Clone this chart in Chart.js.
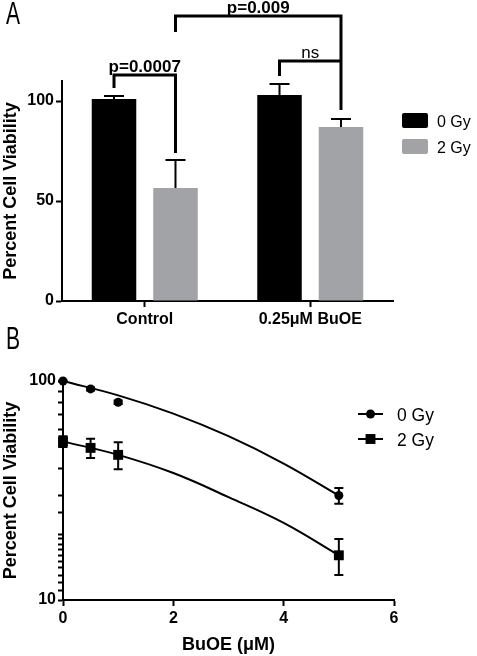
<!DOCTYPE html>
<html>
<head>
<meta charset="utf-8">
<script src="https://cdn.jsdelivr.net/npm/chart.js@4.4.0/dist/chart.umd.min.js"></script>
<style>
  html, body { margin: 0; padding: 0; background: #fff; }
  body { width: 477px; height: 656px; position: relative; overflow: hidden; }
  canvas { position: absolute; left: 0; }
  .panel { position: absolute; left: 6px; font-family: 'Liberation Sans', Arial, sans-serif; font-size: 31px; line-height: 1; color: #000; transform: scaleX(0.68); transform-origin: left top; }
</style>
</head>
<body>
<canvas id="chartA" width="477" height="330" style="top:0"></canvas>
<canvas id="chartB" width="477" height="326" style="top:330px"></canvas>
<div class="panel" style="top:-2px">A</div>
<div class="panel" style="top:323px">B</div>
<script>
// panel A - bar chart
const categories = ['Control', '0.25μM BuOE'];
const viability0 = [101, 103];
const viability2 = [56.5, 87];
const sem0 = [1.5, 5.5];
const sem2 = [14, 4];

// panel B - dose response
const doses = [0, 0.5, 1, 5];
const survival0 = [100, 92, 80, 30];
const survival2 = [53, 49.5, 46, 16];
const survErr0 = [0.5, 1.5, 1.5, 2.5];
const survErr2 = [3, 5, 6.5, 3];
const fitDoses = [0, 1, 2, 3, 4, 5];
const fit0 = [100, 86, 71, 56, 42, 30];
const fit2 = [53, 46, 38, 29.5, 22.5, 16];

const seriesNames = ['0 Gy', '2 Gy'];
const BLACK = '#000000';
const GREY = '#a2a3a7';

Chart.defaults.font.family = "'Liberation Sans', Arial, sans-serif";
Chart.defaults.color = '#000';

// significance brackets: [dataset, category] at each end, values in axis units
const brackets = [
  { from: [0, 0], to: [1, 0], left: 106.5, top: 113, right: 74, text: 'p=0.0007', bold: true },
  { from: [1, 0], to: [1, 1], left: 134.5, top: 142.5, right: 95.5, text: 'p=0.009', bold: true },
  { from: [0, 1], to: [1, 1], left: 112.5, top: 120, right: 120, text: 'ns', bold: false }
];

const barExtras = {
  id: 'barExtras',
  afterDatasetsDraw(chart) {
    const ctx = chart.ctx, y = chart.scales.y;
    ctx.save();
    ctx.strokeStyle = BLACK;
    // error bars (upper only)
    ctx.lineWidth = 2;
    chart.data.datasets.forEach((ds, i) => {
      chart.getDatasetMeta(i).data.forEach((bar, j) => {
        const top = y.getPixelForValue(ds.data[j] + ds.errors[j]);
        ctx.beginPath();
        ctx.moveTo(bar.x, bar.y);
        ctx.lineTo(bar.x, top);
        ctx.moveTo(bar.x - 10, top);
        ctx.lineTo(bar.x + 10, top);
        ctx.stroke();
      });
    });
    // brackets
    ctx.lineWidth = 3;
    ctx.lineJoin = 'miter';
    brackets.forEach(b => {
      const x1 = chart.getDatasetMeta(b.from[0]).data[b.from[1]].x;
      const x2 = chart.getDatasetMeta(b.to[0]).data[b.to[1]].x;
      const yt = y.getPixelForValue(b.top);
      ctx.beginPath();
      ctx.moveTo(x1, y.getPixelForValue(b.left));
      ctx.lineTo(x1, yt);
      ctx.lineTo(x2, yt);
      ctx.lineTo(x2, y.getPixelForValue(b.right));
      ctx.stroke();
      ctx.font = (b.bold ? 'bold ' : '') + '17px ' + Chart.defaults.font.family;
      ctx.fillStyle = BLACK;
      ctx.textAlign = 'center';
      ctx.textBaseline = 'alphabetic';
      ctx.fillText(b.text, (x1 + x2) / 2, yt - 3);
    });
    // legend
    const lx = chart.chartArea.right + 9;
    [BLACK, GREY].forEach((c, i) => {
      const cy = 120.5 + i * 26;
      ctx.fillStyle = c;
      ctx.beginPath();
      ctx.roundRect(lx, cy - 7.5, 26, 15, 2);
      ctx.fill();
      ctx.fillStyle = BLACK;
      ctx.font = '16px ' + Chart.defaults.font.family;
      ctx.textAlign = 'left';
      ctx.fillText(seriesNames[i], lx + 35, cy + 6.5);
    });
    ctx.restore();
  }
};

new Chart(document.getElementById('chartA'), {
  type: 'bar',
  data: {
    labels: categories,
    datasets: [
      { label: seriesNames[0], data: viability0, errors: sem0, backgroundColor: BLACK,
        categoryPercentage: 0.743, barPercentage: 0.724 },
      { label: seriesNames[1], data: viability2, errors: sem2, backgroundColor: GREY,
        categoryPercentage: 0.743, barPercentage: 0.724 }
    ]
  },
  options: {
    responsive: false,
    animation: false,
    layout: { padding: { left: 0, right: 84, top: 81, bottom: 0 } },
    plugins: { legend: { display: false }, tooltip: { enabled: false } },
    scales: {
      x: {
        grid: { offset: false, drawOnChartArea: false, tickLength: 6, tickWidth: 2, color: BLACK },
        border: { color: BLACK, width: 2 },
        ticks: { font: { size: 16, weight: 'bold' }, padding: 3, color: BLACK },
        afterFit: s => { s.height = 29; }
      },
      y: {
        min: 0,
        max: 110,
        afterBuildTicks: s => { s.ticks = [0, 50, 100].map(v => ({ value: v })); },
        grid: { drawOnChartArea: false, tickLength: 6, tickWidth: 2, color: BLACK },
        border: { color: BLACK, width: 2 },
        ticks: { font: { size: 16, weight: 'bold' }, padding: 2, color: BLACK },
        title: { display: true, text: 'Percent Cell Viability', font: { size: 18, weight: 'bold' }, padding: 0, color: BLACK },
        afterFit: s => { s.width = 62; }
      }
    }
  },
  plugins: [barExtras]
});

const doseExtras = {
  id: 'doseExtras',
  afterDatasetsDraw(chart) {
    const ctx = chart.ctx, x = chart.scales.x, y = chart.scales.y;
    ctx.save();
    ctx.strokeStyle = BLACK;
    ctx.lineWidth = 2;
    [[survival0, survErr0], [survival2, survErr2]].forEach(([vals, errs]) => {
      vals.forEach((v, i) => {
        const px = x.getPixelForValue(doses[i]);
        const hi = y.getPixelForValue(v + errs[i]);
        const lo = y.getPixelForValue(v - errs[i]);
        ctx.beginPath();
        ctx.moveTo(px, hi); ctx.lineTo(px, lo);
        ctx.moveTo(px - 4.5, hi); ctx.lineTo(px + 4.5, hi);
        ctx.moveTo(px - 4.5, lo); ctx.lineTo(px + 4.5, lo);
        ctx.stroke();
      });
    });
    // legend
    const lx = chart.chartArea.right - 36;
    ['circle', 'rect'].forEach((style, i) => {
      const cy = 84 + i * 25;
      ctx.beginPath();
      ctx.moveTo(lx, cy); ctx.lineTo(lx + 25, cy);
      ctx.stroke();
      ctx.fillStyle = BLACK;
      Chart.helpers.drawPoint(ctx, { pointStyle: style, radius: style === 'rect' ? 7 : 4.5, borderWidth: 0 }, lx + 12.5, cy);
      ctx.font = '17.5px ' + Chart.defaults.font.family;
      ctx.textAlign = 'left';
      ctx.textBaseline = 'alphabetic';
      ctx.fillText(seriesNames[i], lx + 39, cy + 6.5);
    });
    ctx.restore();
  }
};

const toXY = (xs, ys) => xs.map((v, i) => ({ x: v, y: ys[i] }));

new Chart(document.getElementById('chartB'), {
  type: 'scatter',
  data: {
    datasets: [
      { label: 'fit ' + seriesNames[0], data: toXY(fitDoses, fit0), showLine: true, borderColor: BLACK,
        borderWidth: 2, pointRadius: 0, tension: 0.4, clip: false },
      { label: 'fit ' + seriesNames[1], data: toXY(fitDoses, fit2), showLine: true, borderColor: BLACK,
        borderWidth: 2, pointRadius: 0, tension: 0.4, clip: false },
      { label: seriesNames[0], data: toXY(doses, survival0), pointStyle: 'circle', pointRadius: 4.5,
        backgroundColor: BLACK, borderWidth: 0, clip: false },
      { label: seriesNames[1], data: toXY(doses, survival2), pointStyle: 'rect', pointRadius: 7,
        backgroundColor: BLACK, borderWidth: 0, clip: false }
    ]
  },
  options: {
    responsive: false,
    animation: false,
    layout: { padding: { left: 0, right: 83, top: 51, bottom: 0 } },
    plugins: { legend: { display: false }, tooltip: { enabled: false } },
    scales: {
      x: {
        type: 'linear',
        min: 0,
        max: 6,
        ticks: { stepSize: 2, font: { size: 16, weight: 'bold' }, padding: 3, color: BLACK },
        grid: { drawOnChartArea: false, tickLength: 6, tickWidth: 2, color: BLACK },
        border: { color: BLACK, width: 2 },
        title: { display: true, text: 'BuOE (μM)', font: { size: 18, weight: 'bold' }, padding: 0, color: BLACK },
        afterFit: s => { s.height = 56; }
      },
      y: {
        type: 'logarithmic',
        min: 10,
        max: 100,
        ticks: {
          autoSkip: false,
          font: { size: 16, weight: 'bold' },
          padding: 2,
          color: BLACK,
          callback: v => (v === 10 || v === 100) ? String(v) : ''
        },
        grid: { drawOnChartArea: false, tickLength: 5, tickWidth: 2, color: BLACK },
        border: { color: BLACK, width: 2 },
        title: { display: true, text: 'Percent Cell Viability', font: { size: 18, weight: 'bold' }, padding: 0, color: BLACK },
        afterFit: s => { s.width = 63; }
      }
    }
  },
  plugins: [doseExtras]
});
</script>
</body>
</html>
